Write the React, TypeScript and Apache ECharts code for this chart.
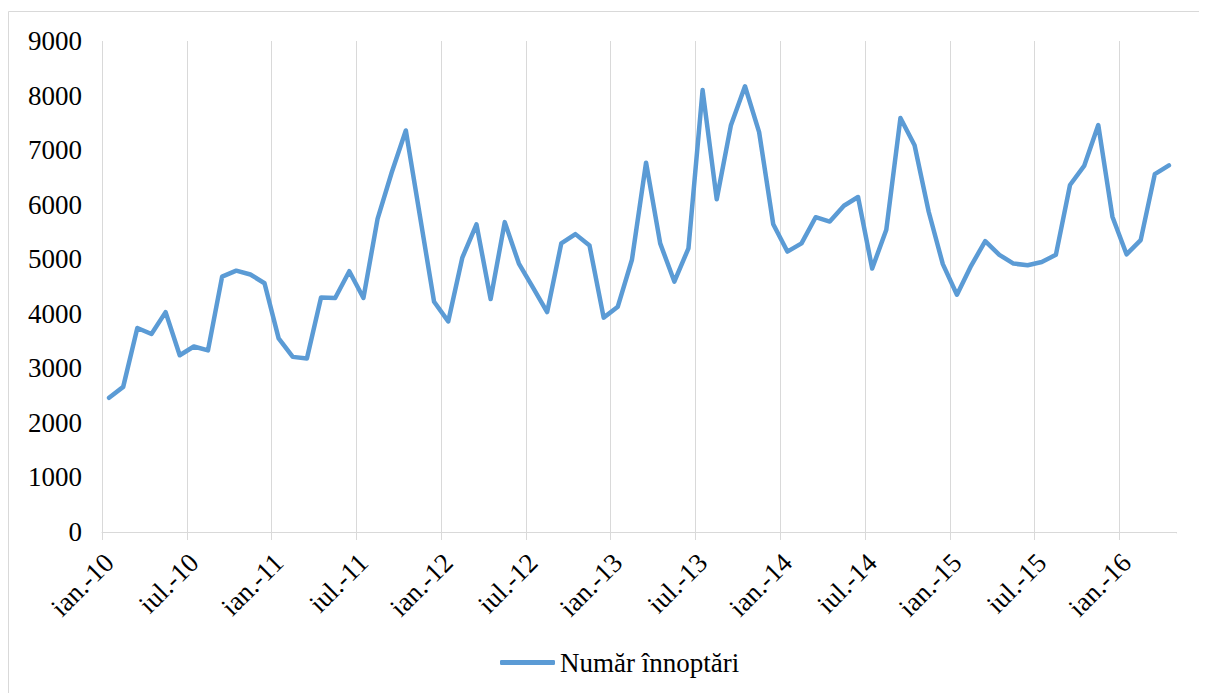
import React, { useEffect, useRef } from "react";
import * as echarts from "echarts";

const monthNames = ["ian.", "feb.", "mar.", "apr.", "mai", "iun.", "iul.", "aug.", "sept.", "oct.", "nov.", "dec."];
const years = ["10", "11", "12", "13", "14", "15", "16"];
const monthCount = 76;

const values2010 = [2460, 2660, 3740, 3630, 4030, 3240, 3400, 3330, 4680, 4790, 4720, 4560];
const values2011 = [3550, 3210, 3180, 4300, 4290, 4780, 4290, 5740, 6590, 7360, 5790, 4220];
const values2012 = [3860, 5030, 5640, 4270, 5680, 4920, 4480, 4030, 5290, 5460, 5250, 3930];
const values2013 = [4130, 4990, 6770, 5290, 4590, 5200, 8100, 6100, 7450, 8170, 7330, 5640];
const values2014 = [5140, 5290, 5770, 5690, 5980, 6140, 4830, 5540, 7590, 7090, 5870, 4910];
const values2015 = [4350, 4880, 5330, 5080, 4920, 4890, 4950, 5080, 6360, 6710, 7460, 5780];
const values2016 = [5090, 5350, 6560, 6720];

const seriesName = "Număr înnoptări";

const categories: string[] = [];
for (let i = 0; i < monthCount; i++) {
  categories.push(monthNames[i % 12] + "-" + years[Math.floor(i / 12)]);
}
const values = [
  ...values2010,
  ...values2011,
  ...values2012,
  ...values2013,
  ...values2014,
  ...values2015,
  ...values2016,
];

const FONT = "'Liberation Serif', 'Times New Roman', serif";
const GRID_COLOR = "#d9d9d9";

export default function App() {
  const ref = useRef<HTMLDivElement>(null);
  useEffect(() => {
    if (!ref.current) return;
    const chart = echarts.init(ref.current, undefined, { renderer: "svg" });
    chart.setOption({
      animation: false,
      backgroundColor: "#ffffff",
      textStyle: { fontFamily: FONT },
      graphic: [
        {
          type: "rect",
          shape: { x: 0.5, y: 3.5, width: 1400, height: 900 },
          style: { fill: "none", stroke: GRID_COLOR, lineWidth: 1 },
          silent: true,
          z: -10,
        },
        {
          type: "rect",
          shape: { x: 1164, y: 525.3, width: 10, height: 14 },
          style: { fill: "#ffffff" },
          silent: true,
          z: 100,
        },
      ],
      grid: { left: 94, right: 31, top: 33, bottom: 161, containLabel: false },
      legend: {
        data: [{ name: seriesName, icon: "roundRect" }],
        left: 492,
        top: 641,
        padding: 0,
        itemWidth: 55,
        itemHeight: 5,
        textStyle: { fontFamily: FONT, fontSize: 27, color: "#000" },
      },
      xAxis: {
        type: "category",
        data: categories,
        boundaryGap: true,
        axisLine: { show: true, lineStyle: { color: GRID_COLOR, width: 1 } },
        axisTick: { show: true, interval: 5, length: 8, lineStyle: { color: GRID_COLOR } },
        splitLine: { show: true, interval: 5, showMaxLine: false, lineStyle: { color: GRID_COLOR, width: 1 } },
        axisLabel: {
          interval: 5,
          rotate: 45,
          margin: 26,
          fontFamily: FONT,
          fontSize: 27,
          color: "#000",
        },
      },
      yAxis: {
        type: "value",
        min: 0,
        max: 9000,
        interval: 1000,
        axisLine: { show: false },
        axisTick: { show: false },
        splitLine: { show: false },
        axisLabel: {
          margin: 20,
          fontFamily: FONT,
          fontSize: 27,
          color: "#000",
          formatter: (v: number) => String(v),
        },
      },
      series: [
        {
          name: seriesName,
          type: "line",
          data: values,
          symbol: "none",
          lineStyle: { color: "#5b9bd5", width: 4.5, cap: "round", join: "round" },
          itemStyle: { color: "#5b9bd5" },
        },
      ],
    });
    return () => chart.dispose();
  }, []);
  return <div ref={ref} style={{ width: 1199, height: 685 }} />;
}
